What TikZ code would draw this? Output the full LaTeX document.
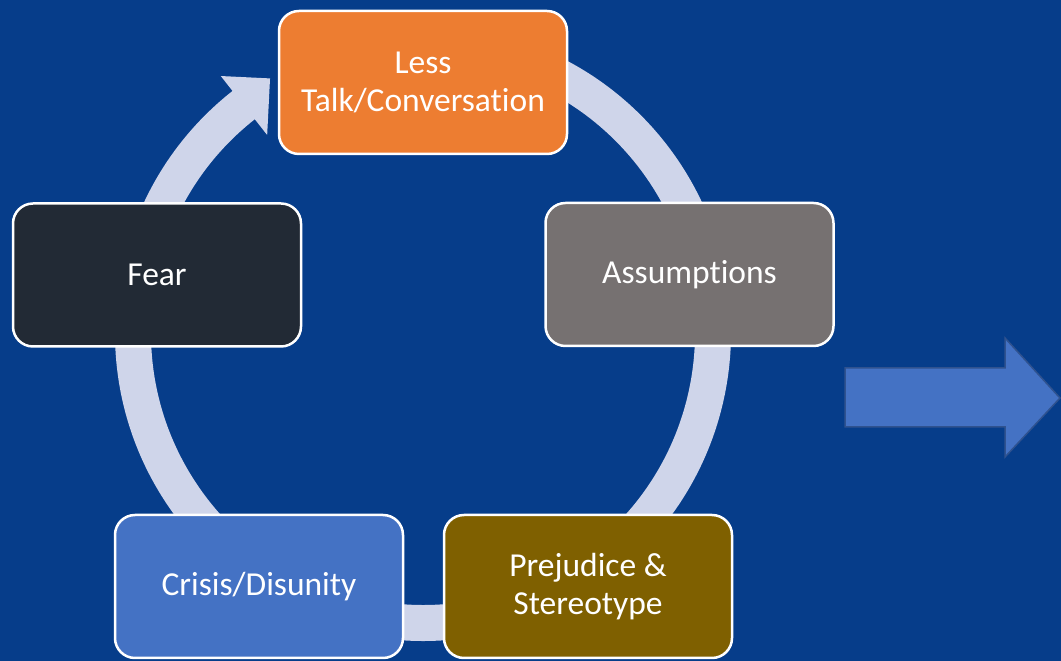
\documentclass[tikz,border=0pt]{standalone}
\usepackage{fontspec}
\setmainfont[Ligatures=NoCommon]{Carlito}
\usetikzlibrary{calc}
\definecolor{bg}{HTML}{063D8A}
\definecolor{ringc}{HTML}{CFD5EA}
\definecolor{orangec}{HTML}{ED7D31}
\definecolor{grayc}{HTML}{767171}
\definecolor{darkc}{HTML}{222A35}
\definecolor{goldc}{HTML}{7F6000}
\definecolor{bluec}{HTML}{4472C4}
\definecolor{blueedge}{HTML}{2F528F}
\tikzset{
  cyclebox/.style={draw=white, line width=2.5pt, rounded corners=20pt,
    minimum width=288pt, minimum height=143pt, inner sep=0pt,
    align=center, text=white, font=\fontsize{33.5}{38}\selectfont},
  ringband/.style={draw=ringc, line width=36pt, line cap=butt},
}
\begin{document}
\begin{tikzpicture}[x=1pt,y=1pt]
\fill[bg] (0,0) rectangle (1061,661);
\useasboundingbox (0,0) rectangle (1061,661);
\coordinate (c) at (423,328);
% ring
\draw[ringband] ($(c)+(128:290)$) arc[start angle=128, end angle=450, radius=290];
\fill[ringc] ($(c)+(128.2:327)$) -- ($(c)+(121:297)$) -- ($(c)+(128.2:252)$) -- cycle;
% boxes
\node[cyclebox, fill=orangec] (less) at (423,578.5) {Less\\Talk/Conversation};
\node[cyclebox, fill=grayc] (assump) at (689.5,386.5) {Assumptions};
\node[cyclebox, fill=goldc] (prej) at (588,74.5) {Prejudice \&\\Stereotype};
\node[cyclebox, fill=bluec] (crisis) at (259,74.5) {Crisis/Disunity};
\node[cyclebox, fill=darkc] (fear) at (157,386) {Fear};
% right arrow
\draw[fill=bluec, draw=blueedge, line width=1.5pt, line join=miter]
  (845,234) -- (845,293) -- (1005,293) -- (1005,323) -- (1060,263)
  -- (1005,204) -- (1005,234) -- cycle;
\end{tikzpicture}
\end{document}
